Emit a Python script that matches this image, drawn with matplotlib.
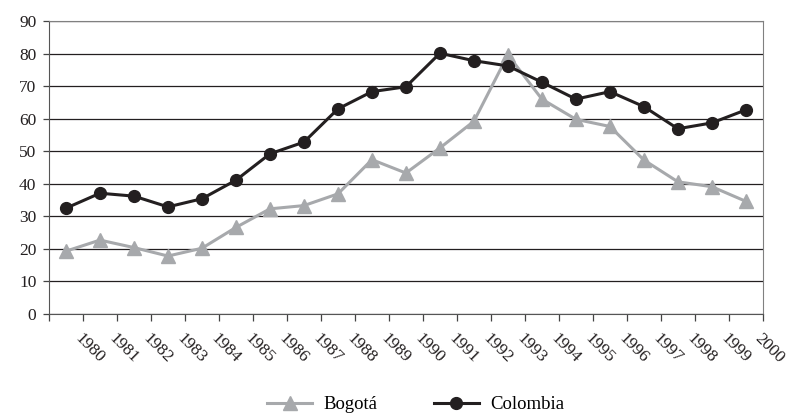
import matplotlib.pyplot as plt
import numpy as np

plt.rcParams['font.family'] = ['Liberation Serif', 'DejaVu Serif']

# Year labels sit on the boundaries, points sit between them (Excel-style category axis)
years = [str(y) for y in range(1980, 2001)]
bogota = [19.3, 22.7, 20.4, 17.8, 20.2, 26.6, 32.3, 33.3, 36.9, 47.4, 43.3,
          51.0, 59.2, 79.6, 66.0, 59.8, 57.6, 47.3, 40.6, 39.1, 34.6]
colombia = [32.5, 37.1, 36.2, 32.9, 35.4, 41.1, 49.2, 52.8, 63.0, 68.3, 69.8,
            80.1, 77.8, 76.2, 71.2, 66.0, 68.3, 63.7, 56.9, 58.7, 62.7]

gray = '#a7a9ac'
black = '#231f20'

fig = plt.figure(figsize=(7.95, 4.2), dpi=100)
ax = fig.add_axes([0.0616, 0.2524, 0.898, 0.6976])

x = np.arange(len(bogota)) + 0.5
ax.plot(x, bogota, color=gray, lw=2.2, marker='^', ms=9.5, label='Bogotá', zorder=3)
ax.plot(x, colombia, color=black, lw=2.2, marker='o', ms=8.5, label='Colombia', zorder=4)

ax.set_xlim(0, len(bogota))
ax.set_ylim(0, 90)
ax.set_yticks(range(0, 91, 10))
ax.yaxis.grid(True, color=black, lw=0.9)
ax.set_axisbelow(True)

ax.set_xticks(range(0, len(bogota) + 1))
ax.set_xticklabels([''] + years, rotation=-45, ha='left', va='top', rotation_mode='anchor')

for side in ['top', 'right']:
    ax.spines[side].set_color('#808080')
for side in ['left', 'bottom']:
    ax.spines[side].set_color('#555555')
ax.tick_params(axis='x', length=5, width=0.9, color='#444444', labelsize=12.5, pad=7, colors=black)
ax.tick_params(axis='y', length=4, width=0.9, color='#444444', labelsize=12.5, pad=5, colors=black)

fig.legend(loc='center', bbox_to_anchor=(0.523, 0.036), ncol=2, frameon=False,
           fontsize=13.5, handlelength=2.4, columnspacing=3.0, handletextpad=0.6)

fig.savefig('out.png', dpi=100)
